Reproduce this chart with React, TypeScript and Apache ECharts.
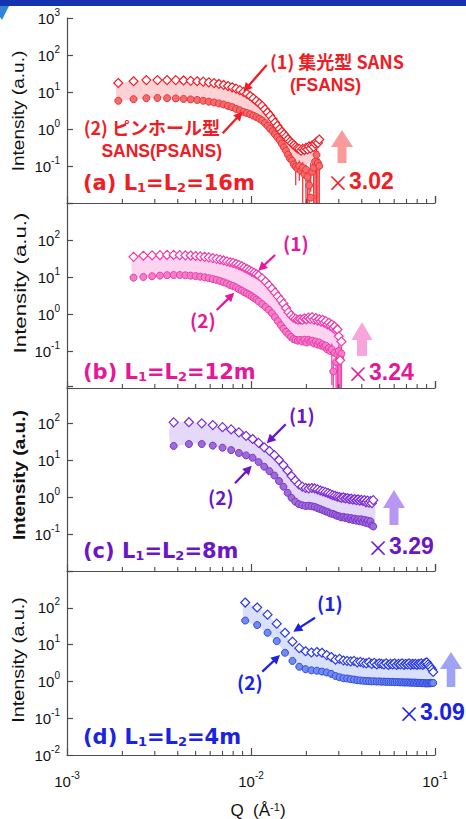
import React, { useEffect, useRef } from 'react';
import * as echarts from 'echarts';

const LS = '"Liberation Sans", Arial, Helvetica, sans-serif';
const DJ = '"DejaVu Sans", sans-serif';
const JP = '"Noto Sans CJK JP", sans-serif';

// ---------- (a) L1=L2=16m ----------
const qA = [0.0019,0.0023,0.0027,0.0031,0.0035,0.0039,0.0043,0.0047,0.0051,0.0055,0.0059,0.0063,0.0067,0.0071,0.0075,0.0079,0.0083,0.0087,0.0091,0.0095,0.0099,0.0103,0.0107,0.0111,0.0115,0.0119,0.0123,0.0127,0.0131,0.0135,0.0139,0.0143,0.0147,0.0151,0.0155,0.0159,0.0163,0.0167,0.0171,0.0175,0.0179,0.0183,0.0187,0.0191,0.0195,0.0199,0.0203,0.0207,0.0211,0.0215,0.0219,0.0223,0.0227,0.0231,0.0235];
const fsansA = [17.5,19.5,21,21,21,21,20.5,20,19.5,19,18.2,17.4,16.5,15.5,14.5,13.4,12.3,11.2,10,8.9,7.8,6.7,5.7,4.9,4.2,3.4,2.8,2.3,1.85,1.5,1.22,1.0,0.84,0.72,0.62,0.53,0.46,0.41,0.37,0.33,0.3,0.29,0.26,0.29,0.27,0.31,0.28,0.34,0.3,0.36,0.33,0.4,0.45,0.42,0.52];
const psansA = [5.8,6.4,6.8,6.9,6.8,6.7,6.5,6.3,6.1,5.8,5.5,5.2,4.9,4.6,4.2,3.9,3.5,3.2,2.9,2.7,2.5,2.3,2.1,1.9,1.7,1.45,1.22,1.02,0.87,0.72,0.6,0.5,0.4,0.32,0.26,0.2,0.16,0.14,0.11,0.096,0.085,0.1,0.075,0.09,0.06,0.08,0.05,0.03,0.014,0.07,0.09,0.13,0.2,0.12,0.1];
const bandQA = [0.0019,0.003,0.005,0.007,0.009,0.011,0.013,0.015,0.017,0.019,0.021,0.023];
const bandHiA = [16,19.5,18,14,9,4.8,1.9,0.72,0.38,0.28,0.3,0.36];
const bandLoA = [6.3,7,6.3,4.8,3.0,1.9,0.92,0.36,0.15,0.11,0.12,0.17];
const errQA = [0.0175,0.0183,0.0191,0.0199,0.0203,0.0207,0.0211,0.0219,0.0223,0.0227,0.0231,0.0235];
const errLoA = [0.03,0.04,0.005,0.006,0.004,0.001,0.02,0.006,0.001,0.001,0.001,0.004];
const errHiA = [0.14,0.14,0.13,0.11,0.09,0.05,0.12,0.15,0.2,0.35,0.25,0.16];

// ---------- (b) L1=L2=12m ----------
const qB = [0.0023,0.0026,0.0029,0.0032,0.0035,0.0038,0.0041,0.0044,0.0047,0.0050,0.0053,0.0056,0.0059,0.0062,0.0065,0.0068,0.0071,0.0074,0.0077,0.0080,0.0083,0.0086,0.0089,0.0092,0.0095,0.0098,0.0101,0.0104,0.0107,0.0110,0.0115,0.0120,0.0125,0.0130,0.0135,0.0140,0.0145,0.0150,0.0155,0.0160,0.0165,0.0170,0.0175,0.0180,0.0185,0.0190,0.0195,0.0200,0.0205,0.0210,0.0215,0.0220,0.0225,0.0230,0.0235,0.0240,0.0245,0.0250,0.0255,0.0260,0.0265,0.0270,0.0275,0.0280,0.0285,0.0290,0.0295,0.0300,0.0305,0.0310];
const fsansB = [35,37.5,38.5,39,39.5,39.5,39,38.5,38,37,36,35,34,32.5,31,29.5,28,26.5,25,24,22.5,21,19.5,18,16.5,15.2,14,13,12,11,9.2,7.5,6.0,4.8,3.8,3.0,2.4,1.9,1.45,1.12,0.92,0.8,0.74,0.7,0.72,0.69,0.76,0.72,0.8,0.74,0.82,0.7,0.78,0.66,0.72,0.62,0.7,0.58,0.64,0.52,0.58,0.48,0.52,0.42,0.46,0.36,0.38,0.25,0.056,0.18];
const psansB = [9.6,10,10.5,10.9,11.2,11.3,11.3,11.1,10.9,10.6,10.2,9.8,9.3,8.8,8.3,7.8,7.2,6.7,6.1,5.7,5.2,4.7,4.3,3.9,3.6,3.3,3.0,2.7,2.45,2.2,1.85,1.55,1.3,1.05,0.82,0.64,0.5,0.4,0.33,0.28,0.24,0.21,0.2,0.19,0.2,0.18,0.2,0.17,0.2,0.18,0.19,0.16,0.18,0.15,0.17,0.14,0.15,0.13,0.14,0.11,0.12,0.1,0.11,0.028,0.09,0.05,0.08,0.1,0.07,0.085];
const bandQB = [0.0023,0.003,0.005,0.007,0.009,0.011,0.013,0.015,0.017,0.019,0.022,0.025,0.028,0.030,0.031];
const bandHiB = [33,37,35,27,17.5,9.5,4.3,1.7,0.75,0.65,0.66,0.56,0.42,0.26,0.15];
const bandLoB = [11,11.5,11,7.8,4.6,2.6,1.25,0.48,0.25,0.22,0.21,0.17,0.13,0.1,0.08];
const errQB = [0.0275,0.028,0.029,0.0295,0.030,0.0305,0.031,0.031];
const errLoB = [0.012,0.001,0.004,0.01,0.001,0.001,0.001,0.001];
const errHiB = [0.16,0.05,0.08,0.12,0.15,0.12,0.14,0.24];

// ---------- (c) L1=L2=8m ----------
const qC = [0.0038,0.0046,0.0054,0.0062,0.0070,0.0078,0.0086,0.0094,0.0102,0.0110,0.0118,0.0126,0.0134,0.0142,0.0150,0.0158,0.0166,0.0174,0.0182,0.0190,0.0198,0.0206,0.0214,0.0222,0.0230,0.0238,0.0246,0.0254,0.0262,0.0270,0.0278,0.0286,0.0294,0.0302,0.0310,0.0318,0.0326,0.0334,0.0342,0.0350,0.0358,0.0366,0.0374,0.0382,0.0390,0.0398,0.0406,0.0414,0.0422,0.0430,0.0438,0.0446,0.0454,0.0462];
const fsansC = [104,105,98,88,77,67,56,45,37,29,22,17.5,13.5,10,7.3,5.2,3.7,2.8,2.2,1.9,1.75,1.7,1.75,1.7,1.6,1.5,1.42,1.35,1.28,1.2,1.12,1.08,1.02,1.0,0.95,0.98,0.92,0.94,0.88,0.9,0.85,0.88,0.82,0.86,0.8,0.84,0.78,0.82,0.72,0.8,0.7,0.78,0.68,0.82];
const psansC = [24,27,27,24.5,21.5,18.5,15.5,13.3,11.5,8.8,6.6,5.0,3.8,2.7,1.9,1.3,0.95,0.75,0.64,0.6,0.57,0.58,0.56,0.54,0.5,0.47,0.44,0.41,0.39,0.36,0.35,0.33,0.31,0.3,0.28,0.29,0.27,0.28,0.25,0.27,0.24,0.26,0.23,0.25,0.22,0.25,0.21,0.24,0.2,0.23,0.19,0.22,0.17,0.16];
const bandQC = [0.0037,0.005,0.007,0.009,0.011,0.013,0.015,0.017,0.019,0.022,0.026,0.030,0.035,0.040,0.0465];
const bandHiC = [95,100,75,50,28,15,7,3.1,1.9,1.7,1.3,1.0,0.88,0.82,0.75];
const bandLoC = [26,28,21,14,8.5,4.3,1.9,0.85,0.62,0.55,0.42,0.32,0.27,0.23,0.19];

// ---------- (d) L1=L2=4m ----------
const qD = [0.0093,0.0108,0.0123,0.0138,0.0153,0.0168,0.0183,0.0198,0.0213,0.0228,0.0243,0.0258,0.0273,0.0288,0.0303,0.0318,0.0333,0.0348,0.0363,0.0378,0.0393,0.0408,0.0423,0.0438,0.0453,0.0468,0.0483,0.0498,0.0513,0.0528,0.0543,0.0558,0.0573,0.0588,0.0603,0.0618,0.0633,0.0648,0.0663,0.0678,0.0693,0.0708,0.0723,0.0738,0.0753,0.0768,0.0783,0.0798,0.0813,0.0828,0.0843,0.0858,0.0873,0.0888,0.0903,0.0918,0.0933,0.0948,0.0963,0.0978];
const fsansD = [139,102,65,37,21,12,8,6.6,6.1,6.3,6.0,5.2,4.6,3.9,4.1,3.7,3.6,3.5,3.6,3.3,3.4,3.2,3.1,3.3,3.0,3.2,2.9,3.1,3.0,2.9,3.1,2.8,3.0,2.9,3.1,2.8,3.0,2.9,3.1,2.8,3.0,2.9,3.1,2.8,3.0,2.9,3.0,2.8,3.0,2.9,3.1,2.8,3.0,3.2,3.3,2.9,2.6,2.4,2.1,1.8];
const psansD = [45,34,21,12.5,6,3.6,2.5,2.15,2.0,1.95,1.85,1.75,1.6,1.4,1.3,1.22,1.2,1.15,1.12,1.08,1.06,1.04,1.03,1.02,1.0,1.01,0.99,1.0,0.98,0.99,0.97,0.98,0.96,0.97,0.95,0.96,0.95,0.94,0.95,0.93,0.94,0.93,0.94,0.92,0.93,0.92,0.93,0.91,0.92,0.9,0.91,0.89,0.9,0.88,0.89,0.88,0.9,0.89,0.9,0.91];
const bandQD = [0.0092,0.011,0.013,0.015,0.017,0.020,0.025,0.030,0.040,0.060,0.080,0.095];
const bandHiD = [125,95,50,22,10,6.3,5.2,3.8,3.2,2.9,2.8,2.6];
const bandLoD = [48,30,15,7,3.5,2.2,1.8,1.35,1.1,1.0,0.97,0.95];

// axes
const minorTickQ = [0.002,0.003,0.004,0.005,0.006,0.007,0.008,0.009,0.02,0.03,0.04,0.05,0.06,0.07,0.08,0.09];
const hiddenExpA = [-2];
const hiddenExpB = [3, -2];
const hiddenExpC = [3, -2];
const hiddenExpD = [3];
const factors = ['3.02', '3.24', '3.29', '3.09'];
const panelTitles = [['(a) L', '=L', '=16m'], ['(b) L', '=L', '=12m'], ['(c) L', '=L', '=8m'], ['(d) L', '=L', '=4m']];

const panels = [
  { top: 18, height: 185, q: qA, s1: fsansA, s2: psansA, bq: bandQA, bh: bandHiA, bl: bandLoA, eq: errQA, el: errLoA, eh: errHiA, hide: hiddenExpA,
    main: '#ee1d26', dStroke: '#f01e28', cFill: '#f36b6b', cStroke: '#e8333a', band: '#fdd2d5', err: '#f2363e', up: '#f99b9b' },
  { top: 203, height: 185, q: qB, s1: fsansB, s2: psansB, bq: bandQB, bh: bandHiB, bl: bandLoB, eq: errQB, el: errLoB, eh: errHiB, hide: hiddenExpB,
    main: '#e5189a', dStroke: '#ee3aae', cFill: '#f47cc9', cStroke: '#e63ca8', band: '#fcd3f0', err: '#ee44b0', up: '#f7a5dc' },
  { top: 386, height: 185, q: qC, s1: fsansC, s2: psansC, bq: bandQC, bh: bandHiC, bl: bandLoC, eq: [], el: [], eh: [], hide: hiddenExpC,
    main: '#6b17c6', dStroke: '#7b2bd2', cFill: '#9e69d9', cStroke: '#7a36c9', band: '#e5d9fa', err: '#7a36c9', up: '#b797f2' },
  { top: 571, height: 184, q: qD, s1: fsansD, s2: psansD, bq: bandQD, bh: bandHiD, bl: bandLoD, eq: [], el: [], eh: [], hide: hiddenExpD,
    main: '#1b22e0', dStroke: '#2b3ae6', cFill: '#6f8cee', cStroke: '#3149df', band: '#d9e0fa', err: '#3149df', up: '#9ea3f6' },
];

const AXIS = '#4d4d4d';

function arrow(x1: number, y1: number, x2: number, y2: number, color: string) {
  const dx = x2 - x1, dy = y2 - y1, L = Math.hypot(dx, dy);
  const ux = dx / L, uy = dy / L, hl = 9, hw = 4.6;
  const bx = x2 - ux * hl, by = y2 - uy * hl, px = -uy, py = ux;
  return [
    { type: 'line', z: 50, silent: true, shape: { x1, y1, x2: bx + ux, y2: by + uy }, style: { stroke: color, lineWidth: 2.3 } },
    { type: 'polygon', z: 50, silent: true, shape: { points: [[x2, y2], [bx + px * hw, by + py * hw], [bx - px * hw, by - py * hw]] }, style: { fill: color } },
  ];
}

function upArrow(cx: number, tip: number, base: number, bottom: number, hh: number, sh: number, color: string) {
  return { type: 'polygon', z: 50, silent: true,
    shape: { points: [[cx, tip], [cx + hh, base], [cx + sh, base], [cx + sh, bottom], [cx - sh, bottom], [cx - sh, base], [cx - hh, base]] },
    style: { fill: color } };
}

function text(x: number, y: number, t: string, style: any) {
  return { type: 'text', x, y, z: 50, silent: true, style: { text: t, align: 'left', verticalAlign: 'middle', ...style } };
}

function bold(color: string, size = 19) {
  return { fill: color, fontFamily: JP, fontWeight: 'bold', fontSize: size, lineHeight: 21 };
}

function boldLatin(color: string, size: number) {
  return { fill: color, fontFamily: LS, fontWeight: 'bold', fontSize: size, lineHeight: 20 };
}

function title(x: number, y: number, i: number) {
  const c = panels[i].main;
  const parts = panelTitles[i];
  const base = { fill: c, fontFamily: DJ, fontWeight: 'bold', fontSize: 21 };
  return text(x, y, `{m|${parts[0]}}{s|1}{m|${parts[1]}}{s|2}{m|${parts[2]}}`, {
    ...base,
    rich: { m: { ...base }, s: { fill: c, fontFamily: DJ, fontWeight: 'bold', fontSize: 13, verticalAlign: 'bottom' } },
  });
}

function factor(x: number, y: number, i: number) {
  const c = panels[i].main;
  return text(x, y, `{x|×}{n|${factors[i]}}`, {
    fill: c, fontSize: 22,
    rich: { x: { fill: c, fontFamily: JP, fontWeight: 'normal', fontSize: 22, lineHeight: 24 }, n: { fill: c, fontFamily: LS, fontWeight: 'bold', fontSize: 23, lineHeight: 24 } },
  });
}

function yName(x: number, y: number, sx: number, boldName: boolean) {
  return { type: 'text', x, y, z: 50, silent: true, rotation: Math.PI / 2, scaleX: sx,
    style: { text: 'Intensity (a.u.)', align: 'center', verticalAlign: 'middle', fill: '#111', fontFamily: LS, fontSize: 16, fontWeight: boldName ? 'bold' : 'normal' } };
}

const labelRich = {
  m: { fontSize: 15, fontFamily: LS, color: '#111', lineHeight: 22 },
  s: { fontSize: 10, fontFamily: LS, color: '#111', lineHeight: 10, verticalAlign: 'top' },
};

function expLabel(hide: number[]) {
  return (v: number) => {
    const e = Math.round(Math.log10(v));
    if (hide.indexOf(e) >= 0) return '';
    return `{m|10}{s|${e}}`;
  };
}

export default function App() {
  const ref = useRef<HTMLDivElement>(null);
  useEffect(() => {
    if (!ref.current) return;
    const chart = echarts.init(ref.current, undefined, { renderer: 'svg' });

    const grid = panels.map((p) => ({ left: 67, width: 368, top: p.top, height: p.height, containLabel: false, outerBoundsMode: 'none' }));
    const xAxis = panels.map((p, i) => ({
      type: 'log', logBase: 10, min: 0.001, max: 0.1, gridIndex: i,
      axisLine: { show: true, lineStyle: { color: AXIS, width: 1.2 } },
      axisTick: { show: true, inside: true, length: 7, lineStyle: { color: AXIS, width: 1.2 } },
      axisLabel: { show: i === 3, margin: 15, formatter: expLabel([]), rich: labelRich },
      splitLine: { show: false },
    }));
    const yAxis = panels.map((p, i) => ({
      type: 'log', logBase: 10, min: 0.01, max: 1000, gridIndex: i,
      axisLine: { show: true, lineStyle: { color: AXIS, width: 1.2 } },
      axisTick: { show: true, inside: true, length: 6, lineStyle: { color: AXIS, width: 1.2 } },
      axisLabel: { show: true, margin: 7, formatter: expLabel(p.hide), rich: labelRich, showMinLabel: true, showMaxLabel: true },
      splitLine: { show: false },
    }));

    const series: any[] = [];
    panels.forEach((p, i) => {
      series.push({
        type: 'custom', xAxisIndex: i, yAxisIndex: i, z: 1, silent: true,
        data: p.bq.map((q, j) => [q, p.bh[j], p.bl[j]]),
        renderItem: (params: any, api: any) => {
          if (params.dataIndex !== 0) return null;
          const up = p.bq.map((q, j) => api.coord([q, p.bh[j]]));
          const lo = p.bq.map((q, j) => api.coord([q, p.bl[j]])).reverse();
          return { type: 'polygon', shape: { points: up.concat(lo), smooth: 0.3 }, style: { fill: p.band } };
        },
      });
      if (p.eq.length) {
        series.push({
          type: 'custom', xAxisIndex: i, yAxisIndex: i, z: 2, silent: true, clip: true,
          data: p.eq.map((q, j) => [q, p.el[j], p.eh[j]]),
          renderItem: (params: any, api: any) => {
            const a = api.coord([api.value(0), api.value(1)]);
            const b = api.coord([api.value(0), api.value(2)]);
            return { type: 'line', shape: { x1: a[0], y1: a[1], x2: b[0], y2: b[1] }, style: { stroke: p.err, lineWidth: 1.3 } };
          },
        });
      }
      series.push({
        type: 'scatter', xAxisIndex: i, yAxisIndex: i, z: 3, silent: true,
        symbol: 'circle', symbolSize: 7,
        data: p.q.map((q, j) => [q, p.s2[j]]),
        itemStyle: { color: p.cFill, borderColor: p.cStroke, borderWidth: 1, opacity: 1 },
      });
      series.push({
        type: 'scatter', xAxisIndex: i, yAxisIndex: i, z: 4, silent: true,
        symbol: 'diamond', symbolSize: 9,
        data: p.q.map((q, j) => [q, p.s1[j]]),
        itemStyle: { color: '#ffffff', borderColor: p.dStroke, borderWidth: 1.2, opacity: 1 },
      });
      series.push({
        type: 'custom', xAxisIndex: i, yAxisIndex: i, z: 5, silent: true,
        data: minorTickQ.map((q) => [q, 0.01]),
        renderItem: (params: any, api: any) => {
          const c = api.coord([api.value(0), 0.01]);
          return { type: 'line', shape: { x1: c[0], y1: c[1], x2: c[0], y2: c[1] - 4 }, style: { stroke: AXIS, lineWidth: 1.1 } };
        },
      });
    });

    const [pa, pb, pc, pd] = panels;
    const elements: any[] = [
      { type: 'rect', z: 60, silent: true, shape: { x: 0, y: 0, width: 466, height: 6 }, style: { fill: '#1633b2' } },
      { type: 'polygon', z: 60, silent: true, shape: { points: [[0, 6], [9, 6], [6, 12], [2, 20], [0, 17]] }, style: { fill: '#2f86d6' } },
      yName(19, 111, 1.19, false),
      yName(20, 283, 1.39, false),
      yName(20, 475, 1.2, true),
      yName(19, 660, 1.24, false),
      title(83, 183, 0), title(83, 372, 1), title(83, 551, 2), title(83, 737, 3),
      factor(327, 181, 0), factor(347, 372, 1), factor(367, 546, 2), factor(398, 712, 3),
      upArrow(342, 130, 147, 163, 11, 4.5, pa.up),
      upArrow(362, 322, 340, 356, 10.5, 5, pb.up),
      upArrow(394, 490, 508, 525, 11, 4.5, pc.up),
      upArrow(451, 652, 669, 687, 11, 4.3, pd.up),
      // (a) annotations
      text(270, 60.5, '(1) 集光型 SANS', { ...bold(pa.main, 18), lineHeight: 20 }),
      text(290, 84.5, '(FSANS)', boldLatin(pa.main, 17.5)),
      text(220, 126.5, '(2) ピンホール型', { ...bold(pa.main, 18), lineHeight: 20, align: 'right' }),
      text(222, 150.5, 'SANS(PSANS)', { ...boldLatin(pa.main, 17.5), align: 'right' }),
      ...arrow(266.7, 65, 243.3, 91.7, pa.main),
      ...arrow(222.7, 133.3, 242.7, 111.7, pa.main),
      // (b)
      text(283, 242, '(1)', bold(pb.main)),
      text(190, 319, '(2)', bold(pb.main)),
      ...arrow(275, 255, 258.3, 270.7, pb.main),
      ...arrow(216.7, 310, 234.3, 292.7, pb.main),
      // (c)
      text(289, 414, '(1)', bold(pc.main)),
      text(208, 496, '(2)', bold(pc.main)),
      ...arrow(285.7, 424.3, 266.7, 443.3, pc.main),
      ...arrow(235, 483.3, 251.7, 465.7, pc.main),
      // (d)
      text(317, 602, '(1)', bold(pd.main)),
      text(237, 681, '(2)', bold(pd.main)),
      ...arrow(315, 617.7, 293.3, 631.7, pd.main),
      ...arrow(262.3, 671.7, 280, 655, pd.main),
      // x axis name
      { type: 'text', x: 258, y: 810, z: 50, silent: true,
        style: { text: 'Q  (Å{s|-1})', align: 'center', verticalAlign: 'middle', fill: '#111', fontFamily: LS, fontSize: 17,
          rich: { s: { fill: '#111', fontFamily: LS, fontSize: 11, verticalAlign: 'top' } } } },
    ];

    chart.setOption({
      animation: false,
      backgroundColor: '#ffffff',
      grid,
      xAxis,
      yAxis,
      series,
      graphic: { elements },
    });
    return () => chart.dispose();
  }, []);
  return <div ref={ref} style={{ position: 'fixed', left: 0, top: 0, width: '466px', height: '819px' }} />;
}
